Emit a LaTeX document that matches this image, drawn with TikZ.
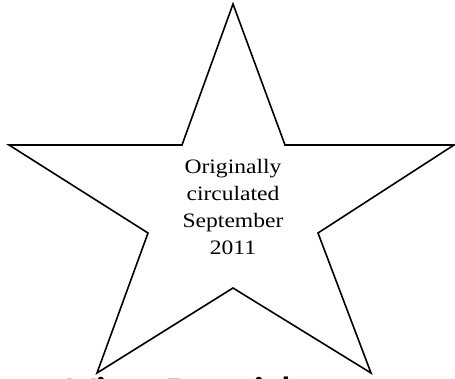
\documentclass[tikz,border=0pt]{standalone}
\usepackage{fontspec}
\setmainfont{Liberation Serif}
\newfontfamily\carlito{Carlito}
\begin{document}
\begin{tikzpicture}[x=1pt,y=-1pt,
  starline/.style={draw=black,line width=1.6pt,line join=miter},
  startext/.style={inner sep=0pt,align=center,font=\fontsize{20.5}{27}\selectfont},
  bottomtext/.style={inner sep=0pt,anchor=base west,font=\carlito\fontsize{44}{50}\selectfont}]
\useasboundingbox (0,0) rectangle (455,379);
\clip (0,0) rectangle (455,379);
\coordinate (p1) at (233,4);
\coordinate (i1) at (285,145);
\coordinate (p2) at (454,145);
\coordinate (i2) at (318,233);
\coordinate (p3) at (371,373);
\coordinate (i3) at (233,288);
\coordinate (p4) at (97,373);
\coordinate (i4) at (148,233);
\coordinate (p5) at (9,145);
\coordinate (i5) at (182,145);
\draw[starline] (p1) -- (i1) -- (p2) -- (i2) -- (p3) -- (i3) -- (p4) -- (i4) -- (p5) -- (i5) -- cycle;
\node[startext] (label) at (233,207) {\scalebox{1.15}[1]{Originally}\\\scalebox{1.15}[1]{circulated}\\\scalebox{1.15}[1]{September}\\\scalebox{1.15}[1]{2011}};
\node[bottomtext] (vp) at (67,407.5) {\scalebox{1.15}[1]{Vice President}};
\end{tikzpicture}
\end{document}
